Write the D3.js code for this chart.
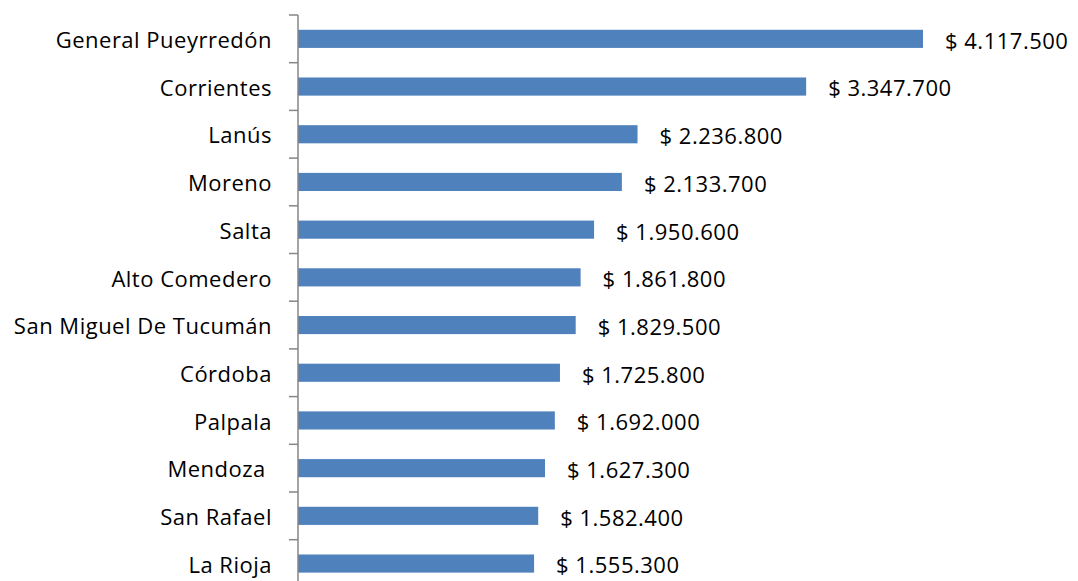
<!DOCTYPE html>
<html>
<head>
<meta charset="utf-8">
<script src="https://cdn.jsdelivr.net/npm/d3@7"></script>
<style>
  html, body { margin: 0; padding: 0; background: #fff; }
  svg { display: block; }
  text { font-family: "Open Sans", sans-serif; fill: #000; letter-spacing: 0.5px; }
</style>
</head>
<body>
<svg id="chart" width="1078" height="581"></svg>
<script>
// Ciudades y montos
const cities = [
  "General Pueyrredón", "Corrientes", "Lanús", "Moreno", "Salta",
  "Alto Comedero", "San Miguel De Tucumán", "Córdoba", "Palpala",
  "Mendoza ", "San Rafael", "La Rioja"
];
const amounts = [
  4117500, 3347700, 2236800, 2133700, 1950600,
  1861800, 1829500, 1725800, 1692000, 1627300, 1582400, 1555300
];

const data = cities.map((c, i) => ({ city: c, amount: amounts[i] }));

const svg = d3.select("#chart");
const axisX = 298, axisTop = 15, step = 47.7;

const x = d3.scaleLinear().domain([0, 4117500]).range([axisX, 923]);
const y = d3.scaleBand()
  .domain(cities)
  .range([axisTop, axisTop + step * cities.length])
  .paddingInner(0.62)
  .paddingOuter(0.31);

const locale = d3.formatLocale({
  decimal: ",", thousands: ".", grouping: [3], currency: ["$ ", ""]
});
const money = locale.format("$,");

// Barras
svg.append("g").selectAll("rect").data(data).join("rect")
  .attr("x", x(0))
  .attr("y", d => y(d.city))
  .attr("width", d => x(d.amount) - x(0))
  .attr("height", y.bandwidth())
  .attr("fill", "#4F81BD");

// Eje de categorías con marcas entre bandas
const axisG = svg.append("g");
axisG.append("line")
  .attr("x1", axisX).attr("x2", axisX)
  .attr("y1", axisTop).attr("y2", axisTop + step * cities.length)
  .attr("stroke", "#868686").attr("stroke-width", 1.5);
const bounds = d3.range(cities.length + 1).map(i => axisTop + i * step);
axisG.selectAll("line.tick").data(bounds).join("line")
  .attr("class", "tick")
  .attr("x1", axisX - 9).attr("x2", axisX)
  .attr("y1", d => d).attr("y2", d => d)
  .attr("stroke", "#868686").attr("stroke-width", 1.5);

// Etiquetas de categoría
svg.append("g").selectAll("text").data(data).join("text")
  .attr("x", axisX - 26)
  .attr("y", d => y(d.city) + y.bandwidth() / 2)
  .attr("dy", "0.42em")
  .attr("text-anchor", "end")
  .attr("font-size", 22)
  .style("white-space", "pre")
  .text(d => d.city);

// Etiquetas de valor
svg.append("g").selectAll("text").data(data).join("text")
  .attr("x", d => x(d.amount) + 22)
  .attr("y", d => y(d.city) + y.bandwidth() / 2)
  .attr("dy", "0.45em")
  .attr("font-size", 22)
  .text(d => money(d.amount));
</script>
</body>
</html>
